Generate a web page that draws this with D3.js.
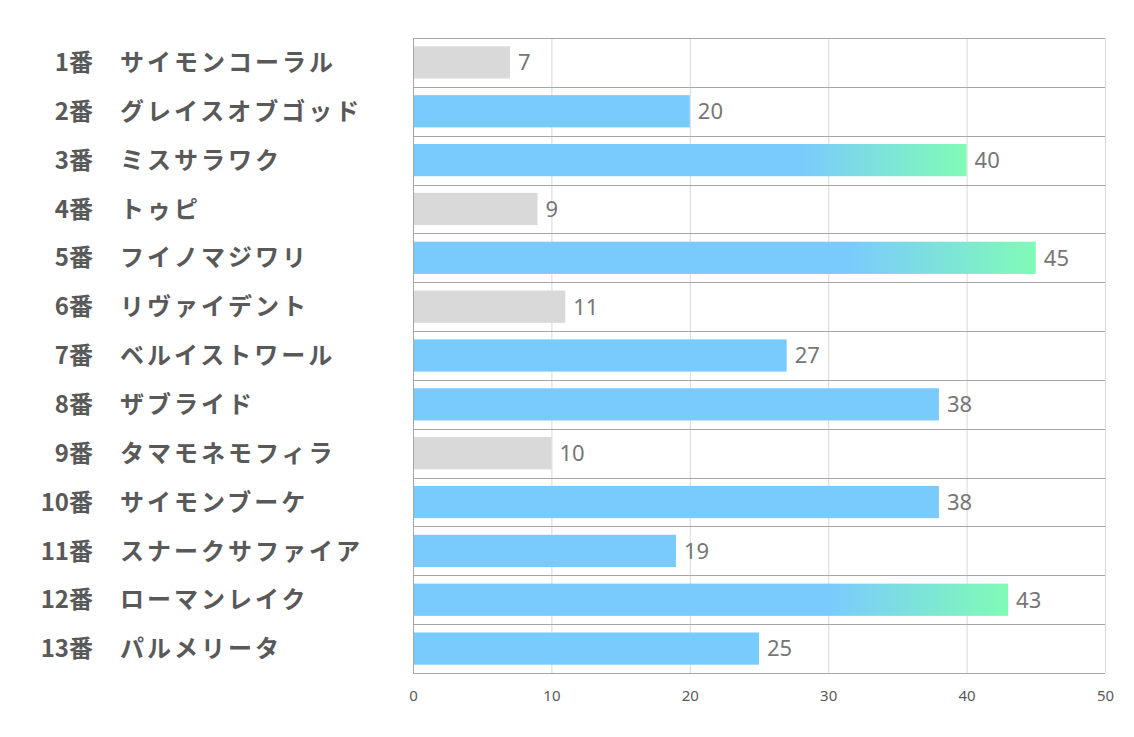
<!DOCTYPE html>
<html><head><meta charset="utf-8">
<script src="https://cdn.jsdelivr.net/npm/d3@7"></script>
<style>body{margin:0;background:#fff}svg{display:block}</style>
</head><body>
<script>
const numbers = ["1番","2番","3番","4番","5番","6番","7番","8番","9番","10番","11番","12番","13番"];
const names = ["サイモンコーラル","グレイスオブゴッド","ミスサラワク","トゥピ","フイノマジワリ","リヴァイデント","ベルイストワール","ザブライド","タマモネモフィラ","サイモンブーケ","スナークサファイア","ローマンレイク","パルメリータ"];
const values = [7,20,40,9,45,11,27,38,10,38,19,43,25];
const styles = ["gray","blue","grad","gray","grad","gray","blue","blue","gray","blue","blue","grad","blue"];
const ticks = [0,10,20,30,40,50];

const W=1134,H=737;
const m={left:413,right:1105,top:38,bottom:673};
const svg=d3.select("body").append("svg").attr("width",W).attr("height",H);
const defs=svg.append("defs");
const g=defs.append("linearGradient").attr("id","grad").attr("x1","0").attr("x2","1").attr("y1","0").attr("y2","0");
g.append("stop").attr("offset","0.7").attr("stop-color","#7acbfd");
g.append("stop").attr("offset","1").attr("stop-color","#80fbb6");

const x=d3.scaleLinear().domain([0,50]).range([m.left,m.right]);
const y=d3.scaleBand().domain(d3.range(values.length)).range([m.top,m.bottom]).paddingInner(0.34).paddingOuter(0.17);
const step=y.step();

// vertical grid
svg.append("g").selectAll("line").data(ticks.slice(1)).join("line")
 .attr("x1",d=>x(d)+0.5).attr("x2",d=>x(d)+0.5).attr("y1",m.top).attr("y2",m.bottom)
 .attr("stroke","#d9d9d9").attr("stroke-width",1);

// bars
const fill={gray:"#d9d9d9",blue:"#7acbfd",grad:"url(#grad)"};
svg.append("g").selectAll("rect").data(values).join("rect")
 .attr("x",x(0)).attr("y",(d,i)=>y(i)).attr("height",y.bandwidth())
 .attr("width",d=>x(d)-x(0)).attr("fill",(d,i)=>fill[styles[i]]);

// horizontal row lines
const rows=d3.range(values.length+1);
svg.append("g").selectAll("line").data(rows).join("line")
 .attr("x1",m.left).attr("x2",m.right).attr("y1",d=>Math.round(m.top+d*step)+0.5).attr("y2",d=>Math.round(m.top+d*step)+0.5)
 .attr("stroke","#a6a6a6").attr("stroke-width",1);
svg.append("line").attr("x1",m.left+0.5).attr("x2",m.left+0.5).attr("y1",m.top).attr("y2",m.bottom)
 .attr("stroke","#a6a6a6");

// value labels
svg.append("g").selectAll("text").data(values).join("text")
 .attr("x",d=>x(d)+8).attr("y",(d,i)=>y(i)+y.bandwidth()/2).attr("dy","0.36em")
 .attr("font-family","'Noto Sans','Open Sans',sans-serif").attr("font-size",22).attr("fill","#767676")
 .text(d=>d);

// category labels
const lab=svg.append("g").attr("font-family","'Noto Sans CJK JP',sans-serif").attr("font-weight","bold").attr("font-size",24).attr("fill","#595959");
lab.selectAll("text.num").data(numbers).join("text").attr("class","num")
 .attr("x",93).attr("text-anchor","end").attr("y",(d,i)=>y(i)+y.bandwidth()/2).attr("dy","0.36em").text(d=>d);
lab.selectAll("text.nm").data(names).join("text").attr("class","nm")
 .attr("x",120).attr("y",(d,i)=>y(i)+y.bandwidth()/2).attr("dy","0.36em")
 .attr("letter-spacing",3).text(d=>d);

// x axis
const ax=svg.append("g").attr("transform",`translate(0,${m.bottom})`)
 .call(d3.axisBottom(x).tickValues(ticks).tickSize(0).tickPadding(17));
ax.select(".domain").remove();
ax.selectAll("text").attr("font-family","'Noto Sans',sans-serif").attr("font-size",15).attr("fill","#595959");
</script>
</body></html>
